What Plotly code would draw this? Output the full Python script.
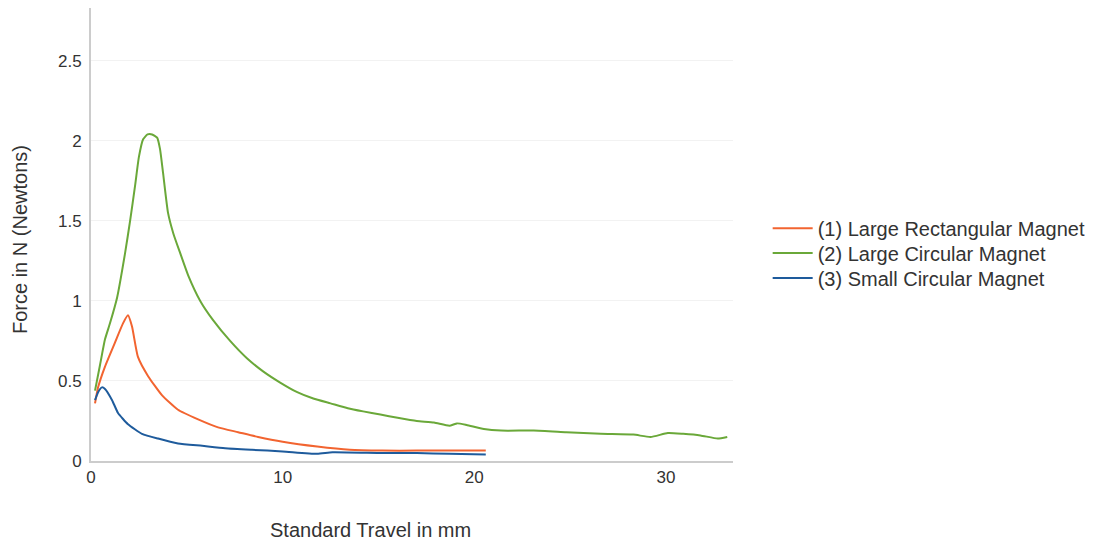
import plotly.graph_objects as go

# Series 1: Large Rectangular Magnet
rect_x = [0.21, 0.37, 0.73, 1.25, 1.67, 1.93, 2.14, 2.45, 2.98, 3.71, 4.54, 5.59,
          6.63, 7.68, 8.72, 10.0, 11.8, 13.5, 15.2, 17.0, 18.7, 20.6]
rect_y = [0.36, 0.46, 0.59, 0.74, 0.86, 0.91, 0.84, 0.65, 0.53, 0.41, 0.32, 0.26,
          0.21, 0.18, 0.15, 0.12, 0.09, 0.07, 0.065, 0.065, 0.065, 0.065]

# Series 2: Large Circular Magnet
circ_x = [0.21, 0.47, 0.73, 0.99, 1.36, 1.78, 2.04, 2.30, 2.50, 2.72, 2.95, 3.19,
          3.45, 3.60, 3.76, 4.02, 4.30, 4.65, 5.07, 5.70, 6.37, 7.26, 8.15,
          8.98, 9.87, 10.76, 11.6, 12.5, 13.4, 14.2, 15.1, 16.0, 17.0, 17.9, 18.7,
          19.1, 19.6, 20.5, 21.4, 23.1, 24.8, 26.6, 28.3, 29.2, 30.1, 30.9, 31.8,
          32.7, 33.2]
circ_y = [0.44, 0.60, 0.76, 0.86, 1.02, 1.30, 1.50, 1.72, 1.90, 2.01, 2.04, 2.04,
          2.02, 1.95, 1.80, 1.55, 1.42, 1.30, 1.16, 1.00, 0.88, 0.75, 0.64,
          0.56, 0.49, 0.43, 0.39, 0.36, 0.33, 0.31, 0.29, 0.27, 0.25, 0.24, 0.22,
          0.235, 0.225, 0.20, 0.19, 0.19, 0.18, 0.17, 0.165, 0.15, 0.175, 0.17, 0.16,
          0.14, 0.15]

# Series 3: Small Circular Magnet
small_x = [0.21, 0.37, 0.57, 0.73, 1.1, 1.41, 1.93, 2.66, 3.5, 4.54, 5.8, 7.0,
           8.4, 10.0, 11.8, 12.6, 15.2, 17.0, 18.7, 20.6]
small_y = [0.38, 0.43, 0.46, 0.45, 0.38, 0.30, 0.23, 0.17, 0.14, 0.11, 0.095, 0.08,
           0.07, 0.06, 0.045, 0.055, 0.05, 0.05, 0.045, 0.04]

names = ["(1) Large Rectangular Magnet", "(2) Large Circular Magnet", "(3) Small Circular Magnet"]
colors = ["#f26430", "#6aa839", "#1e5b9c"]
legend_ids = ["legend", "legend2", "legend3"]
legend_rows = [0.514, 0.459, 0.404]

fig = go.Figure()
for xs, ys, n, c, lg in [(rect_x, rect_y, names[0], colors[0], legend_ids[0]),
                         (circ_x, circ_y, names[1], colors[1], legend_ids[1]),
                         (small_x, small_y, names[2], colors[2], legend_ids[2])]:
    fig.add_trace(go.Scatter(x=xs, y=ys, mode="lines", name=n, legend=lg,
                             line=dict(color=c, width=2, shape="spline", smoothing=0.5)))

legend_common = dict(x=1.054, xanchor="left", yanchor="middle",
                     font=dict(size=20, color="#333333"), itemwidth=40,
                     bgcolor="rgba(0,0,0,0)")
fig.update_layout(
    width=1092, height=536,
    paper_bgcolor="white", plot_bgcolor="white",
    margin=dict(l=83, r=367, t=0, b=83),
    font=dict(family="Liberation Sans, Arial, sans-serif", color="#333333"),
    legend=dict(y=legend_rows[0], **legend_common),
    legend2=dict(y=legend_rows[1], **legend_common),
    legend3=dict(y=legend_rows[2], **legend_common),
    showlegend=True,
)
fig.update_xaxes(range=[0, 33.5], tickvals=[0, 10, 20, 30], showgrid=False,
                 showline=True, linecolor="#cccccc", linewidth=2, zeroline=False,
                 ticks="", tickfont=dict(size=17, color="#333333"), ticklabelstandoff=0)
fig.update_yaxes(range=[0, 2.83], tickvals=[0, 0.5, 1, 1.5, 2, 2.5],
                 ticktext=["0", "0.5", "1", "1.5", "2", "2.5"],
                 showgrid=True, gridcolor="#f2f2f2", gridwidth=1,
                 showline=True, linecolor="#cccccc", linewidth=2, zeroline=False,
                 ticks="", tickfont=dict(size=17, color="#333333"), ticklabelstandoff=4)

fig.add_annotation(text="Standard Travel in mm", xref="paper", yref="paper",
                   x=0.436, y=-0.152, xanchor="center", yanchor="middle",
                   showarrow=False, font=dict(size=20, color="#333333"))
fig.add_annotation(text="Force in N (Newtons)", xref="paper", yref="paper",
                   x=-0.1106, y=0.49, xanchor="center", yanchor="middle",
                   textangle=-90, showarrow=False, font=dict(size=20, color="#333333"))

fig.write_html("out.html")
